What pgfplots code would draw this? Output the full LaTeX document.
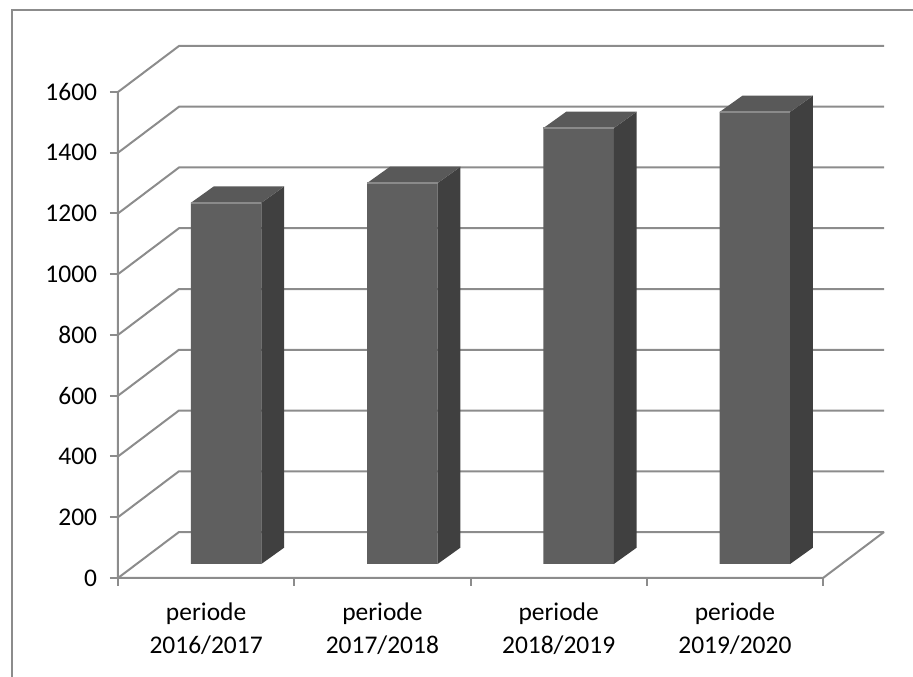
\documentclass[border=0pt]{standalone}
\usepackage{pgfplots}
\pgfplotsset{compat=1.18}
\usepackage{pgfplotstable}
\usepackage{fontspec}
\setmainfont{Carlito}
\definecolor{gridc}{HTML}{8C8C8C}
\definecolor{bordc}{HTML}{8C8C8C}
\definecolor{frontc}{HTML}{5F5F5F}
\definecolor{topc}{HTML}{595959}
\definecolor{sidec}{HTML}{404040}
\definecolor{hlc}{HTML}{8A8A8A}

\pgfplotstableread{
x v
1 1189
2 1254
3 1435
4 1488
}\data

\begin{document}
\begin{tikzpicture}
\useasboundingbox (-88.5pt,-74.25pt) rectangle (596.25pt,433.5pt);
\draw[bordc, line width=1.5pt] (-79.5pt,-80pt) -- (-79.5pt,426pt) -- (600pt,426pt);
\begin{axis}[
  at={(0,0)}, anchor=south west,
  scale only axis, width=574.5pt, height=399pt,
  xmin=0.5, xmax=4.846, ymin=0, ymax=1751.4,
  axis lines*=left, axis line style={draw=none},
  clip=false,
  tick align=outside,
  ytick={0,200,...,1600},
  major tick length=6pt,
  every tick/.style={gridc, line width=1.5pt},
  tick label style={font=\fontsize{19.1}{23}\selectfont},
  xtick={0.5,1.5,2.5,3.5,4.5},
  xticklabels={,,,,},
  extra x ticks={1,2,3,4},
  extra x tick labels={{periode\\2016/2017},{periode\\2017/2018},{periode\\2018/2019},{periode\\2019/2020}},
  extra x tick style={major tick length=0pt,
    xticklabel style={align=center, font=\fontsize{19.1}{24.75}\selectfont, anchor=north, inner sep=0pt, yshift=-18.75pt}},
  yticklabel style={font=\fontsize{19.1}{23}\selectfont, anchor=east, inner sep=0pt, xshift=-9.5pt},
  /pgf/number format/assume math mode=true,
  /pgf/number format/1000 sep={},
]
% back wall gridlines and left wall diagonals
\pgfplotsforeachungrouped \v in {0,200,...,1600}{
  \pgfmathsetmacro\w{\v+151.4}
  \edef\tmp{\noexpand\draw[gridc, line width=1.5pt, line join=miter] (axis cs:0.5,\v) -- (axis cs:0.846,\w) -- (axis cs:4.846,\w);}
  \tmp
}
% floor and y axis
\draw[gridc, line width=1.5pt, line join=miter] (axis cs:0.5,1600) -- (axis cs:0.5,0) -- (axis cs:4.5,0) -- (axis cs:4.846,151.4);
% front faces
\addplot[ybar, bar width=0.4, bar shift=0.113, fill=frontc, draw=none, yshift=10.5pt] table[x=x, y=v]{\data};
% top and side faces
\pgfplotsforeachungrouped \i in {0,1,2,3}{
  \pgfplotstablegetelem{\i}{x}\of{\data}\let\cx\pgfplotsretval
  \pgfplotstablegetelem{\i}{v}\of{\data}\let\cv\pgfplotsretval
  \pgfmathsetmacro\L{\cx-0.087}
  \pgfmathsetmacro\R{\cx+0.313}
  \pgfmathsetmacro\Lb{\L+0.13}
  \pgfmathsetmacro\Rb{\R+0.13}
  \pgfmathsetmacro\T{46+\cv}
  \pgfmathsetmacro\Tb{\T+54}
  \edef\tmp{%
    \noexpand\fill[sidec] (axis cs:\R,46) -- (axis cs:\R,\T) -- (axis cs:\Rb,\Tb) -- (axis cs:\Rb,100) -- cycle;
    \noexpand\fill[topc] (axis cs:\L,\T) -- (axis cs:\R,\T) -- (axis cs:\Rb,\Tb) -- (axis cs:\Lb,\Tb) -- cycle;
    \noexpand\draw[hlc, line width=1.2pt] (axis cs:\L,\T) -- (axis cs:\R,\T);
  }\tmp
}
\end{axis}
\end{tikzpicture}
\end{document}
